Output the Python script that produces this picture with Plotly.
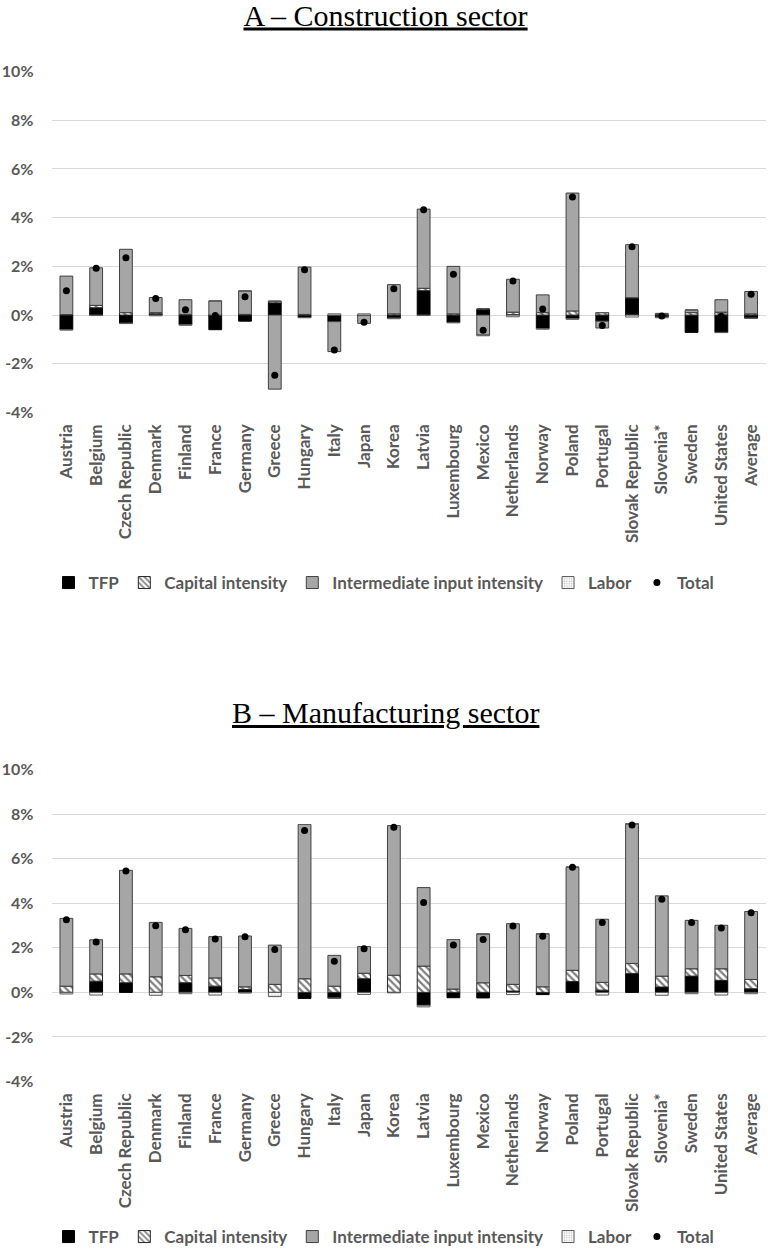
import plotly.graph_objects as go

countries = ["Austria", "Belgium", "Czech Republic", "Denmark", "Finland", "France",
             "Germany", "Greece", "Hungary", "Italy", "Japan", "Korea", "Latvia",
             "Luxembourg", "Mexico", "Netherlands", "Norway", "Poland", "Portugal",
             "Slovak Republic", "Slovenia*", "Sweden", "United States", "Average"]

# Panel A - Construction sector (percent)
a_tfp = [-0.60, 0.30, -0.33, 0.05, -0.40, -0.60, -0.25, 0.50, -0.10, -0.27, -0.02, -0.12,
         1.00, -0.30, 0.22, 0.02, -0.55, -0.15, -0.25, 0.71, -0.08, -0.71, -0.71, -0.12]
a_cap = [0.02, 0.10, 0.10, 0.05, 0.03, 0.00, 0.03, 0.07, 0.03, 0.00, 0.00, 0.05,
         0.10, 0.05, 0.04, 0.10, 0.10, 0.17, 0.10, 0.00, 0.03, 0.10, 0.12, 0.05]
a_int = [1.58, 1.54, 2.60, 0.62, 0.60, 0.58, 0.96, -3.04, 1.94, -1.23, -0.32, 1.20,
         3.25, 1.95, -0.82, 1.35, 0.73, 4.84, -0.28, 2.18, 0.04, 0.11, 0.51, 0.92]
a_lab = [-0.01, -0.02, -0.02, -0.03, -0.01, 0.00, 0.00, 0.00, -0.01, 0.05, 0.05, -0.03,
         -0.02, -0.02, -0.03, -0.07, -0.03, -0.02, 0.00, -0.08, -0.03, 0.00, -0.01, -0.02]
a_tot = [1.00, 1.92, 2.35, 0.68, 0.22, -0.02, 0.75, -2.47, 1.86, -1.43, -0.29, 1.08,
         4.32, 1.68, -0.62, 1.40, 0.25, 4.85, -0.43, 2.81, -0.04, -0.50, -0.05, 0.85]

# Panel B - Manufacturing sector (percent)
b_tfp = [0.00, 0.50, 0.43, 0.00, 0.43, 0.28, 0.13, 0.00, -0.27, -0.25, 0.61, 0.00,
         -0.58, -0.24, -0.25, 0.06, -0.10, 0.49, 0.10, 0.85, 0.24, 0.73, 0.54, 0.16]
b_cap = [0.28, 0.33, 0.40, 0.70, 0.33, 0.37, 0.12, 0.36, 0.61, 0.28, 0.25, 0.77,
         1.18, 0.15, 0.43, 0.30, 0.25, 0.50, 0.35, 0.45, 0.49, 0.33, 0.52, 0.42]
b_int = [3.04, 1.53, 4.64, 2.44, 2.11, 1.85, 2.28, 1.76, 6.92, 1.38, 1.20, 6.71,
         3.52, 2.22, 2.19, 2.72, 2.38, 4.63, 2.83, 6.26, 3.60, 2.17, 1.95, 3.05]
b_lab = [-0.07, -0.12, 0.00, -0.13, -0.06, -0.12, -0.03, -0.19, 0.00, -0.02, -0.09, -0.02,
         -0.07, 0.00, 0.00, -0.10, 0.00, 0.00, -0.12, 0.00, -0.13, -0.06, -0.12, -0.06]
b_tot = [3.26, 2.26, 5.45, 2.99, 2.81, 2.40, 2.50, 1.92, 7.26, 1.40, 1.96, 7.41,
         4.03, 2.13, 2.37, 2.98, 2.52, 5.61, 3.14, 7.51, 4.18, 3.14, 2.89, 3.57]

y_ticks = [-4, -2, 0, 2, 4, 6, 8, 10]
y_tick_labels = ["-4%", "-2%", "0%", "2%", "4%", "6%", "8%", "10%"]
series_names = ["TFP", "Capital intensity", "Intermediate input intensity", "Labor", "Total"]
titles = ["A \u2013 Construction sector", "B \u2013 Manufacturing sector"]

GRAY_TXT = "#595959"
FONT = "Lato"
BAR_W = 0.43

fig = go.Figure()

panels = [
    (a_tfp, a_cap, a_int, a_lab, a_tot, "x", "y", "legend"),
    (b_tfp, b_cap, b_int, b_lab, b_tot, "x2", "y2", "legend2"),
]

for tfp, cap, inter, lab, tot, xa, ya, lg in panels:
    fig.add_trace(go.Bar(
        x=countries, y=tfp, name=series_names[0], xaxis=xa, yaxis=ya, legend=lg,
        width=BAR_W, marker=dict(color="black", line=dict(color="black", width=1))))
    fig.add_trace(go.Bar(
        x=countries, y=cap, name=series_names[1], xaxis=xa, yaxis=ya, legend=lg,
        width=BAR_W, marker=dict(color="white", line=dict(color="#262626", width=1),
                                 pattern=dict(shape="\\", fgcolor="black", bgcolor="white",
                                              size=5, solidity=0.45))))
    fig.add_trace(go.Bar(
        x=countries, y=inter, name=series_names[2], xaxis=xa, yaxis=ya, legend=lg,
        width=BAR_W, marker=dict(color="#A6A6A6", line=dict(color="#404040", width=1))))
    fig.add_trace(go.Bar(
        x=countries, y=lab, name=series_names[3], xaxis=xa, yaxis=ya, legend=lg,
        width=BAR_W, marker=dict(color="white", line=dict(color="#595959", width=1),
                                 pattern=dict(shape=".", fgcolor="#7f7f7f", bgcolor="white",
                                              size=3, solidity=0.3))))
    fig.add_trace(go.Scatter(
        x=countries, y=tot, name=series_names[4], xaxis=xa, yaxis=ya, legend=lg,
        mode="markers", marker=dict(color="black", size=7)))

H = 1257.0
xdom = [51.5 / 768, 766 / 768]
ydomA = [1 - 413 / H, 1 - 71 / H]
ydomB = [1 - 1082 / H, 1 - 769 / H]

xaxis_common = dict(domain=xdom, range=[-0.5, len(countries) - 0.5], autorange=False,
                    tickangle=-90, showgrid=False, showline=False,
                    zeroline=False, ticks="", ticklabelstandoff=7, automargin=False,
                    tickfont=dict(family=FONT, size=17, color=GRAY_TXT, weight="bold"),
                    categoryorder="array", categoryarray=countries)
yaxis_common = dict(range=[-4.02, 10.02], autorange=False, tickvals=y_ticks,
                    ticktext=y_tick_labels,
                    showgrid=True, gridcolor="#D9D9D9", gridwidth=1, zeroline=False,
                    showline=False, ticks="", ticklabelstandoff=17, automargin=False,
                    tickfont=dict(family=FONT, size=16, color=GRAY_TXT, weight="bold"))

legend_common = dict(orientation="h", xanchor="center", x=0.5, yanchor="middle",
                     font=dict(family=FONT, size=17, color=GRAY_TXT, weight="bold"),
                     itemwidth=30, bgcolor="rgba(0,0,0,0)", traceorder="normal")

fig.update_layout(
    width=768, height=1257, margin=dict(l=0, r=0, t=0, b=0, autoexpand=False),
    paper_bgcolor="white", plot_bgcolor="white",
    barmode="relative",
    title=dict(text="<u>" + titles[0] + "</u>", x=0.502, xanchor="center",
               y=1 - 15 / H, yanchor="middle", xref="paper", yref="container",
               font=dict(family="Liberation Serif", size=30, color="black")),
    xaxis=dict(anchor="y", **xaxis_common),
    yaxis=dict(domain=ydomA, anchor="x", **yaxis_common),
    xaxis2=dict(anchor="y2", **xaxis_common),
    yaxis2=dict(domain=ydomB, anchor="x2", **yaxis_common),
    legend=dict(y=1 - 583 / H, **legend_common),
    legend2=dict(y=1 - 1237 / H, **legend_common),
    annotations=[
        dict(text="<u>" + titles[1] + "</u>", xref="paper", yref="paper", x=0.502,
             y=1 - 712 / H, xanchor="center", yanchor="middle", showarrow=False,
             font=dict(family="Liberation Serif", size=30, color="black")),
    ],
)

fig.write_html("out.html", config={"displayModeBar": False},
               post_script="document.body.style.margin='0';document.body.style.overflow='hidden';")
